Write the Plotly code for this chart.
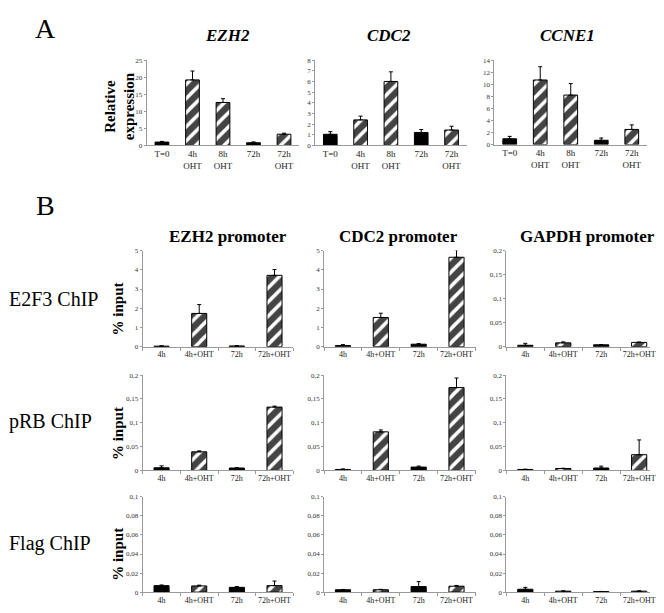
import plotly.graph_objects as go

# the page keeps its 8 px body margin, so the figure is made 16 px smaller
PAGE_W, PAGE_H = 664, 613
OFF = 8
W, H = PAGE_W - 2 * OFF, PAGE_H - 2 * OFF
SERIF = "Liberation Serif, Times New Roman, serif"

# ---- panel A: relative expression ----
a_labels = ["T=0", "4h<br>OHT", "8h<br>OHT", "72h", "72h<br>OHT"]
a_hatched = [False, True, True, False, True]
ezh2_expr = [1.0, 19.2, 12.6, 0.8, 3.3]
ezh2_expr_err = [0.2, 2.6, 1.1, 0.25, 0.3]
cdc2_expr = [1.05, 2.4, 6.0, 1.22, 1.45]
cdc2_expr_err = [0.25, 0.35, 0.9, 0.28, 0.35]
ccne1_expr = [0.95, 10.7, 8.2, 0.7, 2.5]
ccne1_expr_err = [0.4, 2.2, 1.9, 0.38, 0.75]

# ---- panel B: ChIP, % input ----
b_labels = ["4h", "4h+OHT", "72h", "72h+OHT"]
b_hatched = [False, True, False, True]
e2f3_ezh2 = [0.03, 1.73, 0.04, 3.71]
e2f3_ezh2_err = [0.02, 0.46, 0.02, 0.3]
e2f3_cdc2 = [0.06, 1.52, 0.13, 4.65]
e2f3_cdc2_err = [0.05, 0.22, 0.03, 0.38]
e2f3_gapdh = [0.003, 0.008, 0.004, 0.009]
e2f3_gapdh_err = [0.004, 0.002, 0.0005, 0.0008]
prb_ezh2 = [0.0055, 0.039, 0.005, 0.133]
prb_ezh2_err = [0.004, 0.002, 0.0005, 0.002]
prb_cdc2 = [0.002, 0.081, 0.007, 0.174]
prb_cdc2_err = [0.001, 0.004, 0.002, 0.02]
prb_gapdh = [0.002, 0.004, 0.005, 0.033]
prb_gapdh_err = [0.0005, 0.0005, 0.004, 0.031]
flag_ezh2 = [0.0068, 0.0065, 0.005, 0.0068]
flag_ezh2_err = [0.0007, 0.0008, 0.0008, 0.0048]
flag_cdc2 = [0.0025, 0.0025, 0.0058, 0.0062]
flag_cdc2_err = [0.0003, 0.0004, 0.0052, 0.0008]
flag_gapdh = [0.003, 0.001, 0.0005, 0.001]
flag_gapdh_err = [0.002, 0.0003, 0.0002, 0.0003]


def fx(x):
    return min(max((x - OFF) / W, 0), 1)


def fy(y):
    return min(max(1 - (y - OFF) / H, 0), 1)


# (labels, hatched, values, errors, x0, x1, slot px, ytop, ybottom, ymax, dtick, bar width, panel)
panels = [
    (a_labels, a_hatched, ezh2_expr, ezh2_expr_err, 148, 302, 30.8, 57, 144, 25, 5, 0.45, "A"),
    (a_labels, a_hatched, cdc2_expr, cdc2_expr_err, 318, 471, 30.6, 57, 144, 8, 1, 0.45, "A"),
    (a_labels, a_hatched, ccne1_expr, ccne1_expr_err, 499, 653, 30.8, 57, 143, 14, 2, 0.45, "A"),
    (b_labels, b_hatched, e2f3_ezh2, e2f3_ezh2_err, 144, 296, 38.0, 251, 349, 5, 1, 0.4, "B"),
    (b_labels, b_hatched, e2f3_cdc2, e2f3_cdc2_err, 327, 480, 38.2, 251, 349, 5, 1, 0.4, "B"),
    (b_labels, b_hatched, e2f3_gapdh, e2f3_gapdh_err, 511, 656, 38.3, 251, 349, 0.2, 0.05, 0.4, "B"),
    (b_labels, b_hatched, prb_ezh2, prb_ezh2_err, 144, 296, 38.0, 378, 475, 0.2, 0.05, 0.4, "B"),
    (b_labels, b_hatched, prb_cdc2, prb_cdc2_err, 327, 480, 38.2, 378, 475, 0.2, 0.05, 0.4, "B"),
    (b_labels, b_hatched, prb_gapdh, prb_gapdh_err, 511, 656, 38.3, 378, 475, 0.2, 0.05, 0.4, "B"),
    (b_labels, b_hatched, flag_ezh2, flag_ezh2_err, 144, 296, 38.0, 502, 599, 0.1, 0.02, 0.4, "B"),
    (b_labels, b_hatched, flag_cdc2, flag_cdc2_err, 327, 480, 38.2, 502, 599, 0.1, 0.02, 0.4, "B"),
    (b_labels, b_hatched, flag_gapdh, flag_gapdh_err, 511, 656, 38.3, 502, 599, 0.1, 0.02, 0.4, "B"),
]

fig = go.Figure()
layout = {}
for i, (labels, hatched, vals, errs, x0, x1, slot, yt, yb, ymax, dt, bw, panel) in enumerate(panels, start=1):
    sfx = "" if i == 1 else str(i)
    fig.add_trace(go.Bar(
        x=labels, y=vals, width=bw,
        xaxis="x" + sfx, yaxis="y" + sfx,
        marker=dict(
            color=["white" if h else "black" for h in hatched],
            line=dict(color="black", width=1),
            pattern=dict(shape=["/" if h else "" for h in hatched],
                         fgcolor="black", bgcolor="white", fgopacity=1, size=10, solidity=0.65),
        ),
        error_y=dict(type="data", symmetric=False, array=errs, arrayminus=[0] * len(errs),
                     color="black", thickness=1, width=2),
        cliponaxis=False,
    ))
    layout["xaxis" + sfx] = dict(
        domain=[fx(x0), fx(x1)], anchor="y" + sfx, type="category",
        range=[-0.5, -0.5 + (x1 - x0) / slot], showline=True, linecolor="#9a9a9a", linewidth=1,
        showgrid=False, zeroline=False, tickangle=0,
        ticks="outside" if panel == "B" else "", tickson="boundaries", ticklen=3, tickcolor="#9a9a9a",
        tickfont=dict(family=SERIF, size=9 if panel == "A" else 8, color="#222"),
    )
    layout["yaxis" + sfx] = dict(
        domain=[fy(yb), fy(yt)], anchor="x" + sfx, range=[0, ymax], dtick=dt,
        showline=True, linecolor="#9a9a9a", linewidth=1, showgrid=False, zeroline=False,
        ticks="outside", ticklen=2, tickcolor="#9a9a9a",
        tickfont=dict(family=SERIF, size=7, color="#333"),
    )

annotations = []


def note(text, x, y, size, bold=False, italic=False, angle=0, xanchor="center", yanchor="middle"):
    t = text
    if bold:
        t = "<b>" + t + "</b>"
    if italic:
        t = "<i>" + t + "</i>"
    annotations.append(dict(text=t, x=fx(x), y=fy(y), xref="paper", yref="paper",
                            showarrow=False, textangle=angle, xanchor=xanchor, yanchor=yanchor,
                            borderpad=0, font=dict(family=SERIF, size=size, color="black")))


# texts touching the page edge are pinned to the figure edge
note("A", 46, 0, 28, yanchor="top")
note("B", 46, 205, 28)
note("EZH2", 230, 32, 17, bold=True, italic=True)
note("CDC2", 393, 32, 17, bold=True, italic=True)
note("CCNE1", 573, 32, 17, bold=True, italic=True)
note("Relative<br>expression", 121, 104, 15, bold=True, angle=-90)
note("EZH2 promoter", 230, 237, 17, bold=True)
note("CDC2 promoter", 402, 237, 17, bold=True)
note("GAPDH promoter", 593, 237, 17, bold=True)
note("E2F3 ChIP", 0, 300, 20, xanchor="left")
note("pRB ChIP", 0, 425, 20, xanchor="left")
note("Flag ChIP", 0, 549, 20, xanchor="left")
note("% input", 119, 310, 15, bold=True, angle=-90)
note("% input", 119, 437, 15, bold=True, angle=-90)
note("% input", 119, 560, 15, bold=True, angle=-90)

fig.update_layout(
    width=W, height=H, margin=dict(l=0, r=0, t=0, b=0),
    paper_bgcolor="white", plot_bgcolor="white", showlegend=False,
    separators=",.", annotations=annotations, **layout,
)
fig.write_html("out.html")
